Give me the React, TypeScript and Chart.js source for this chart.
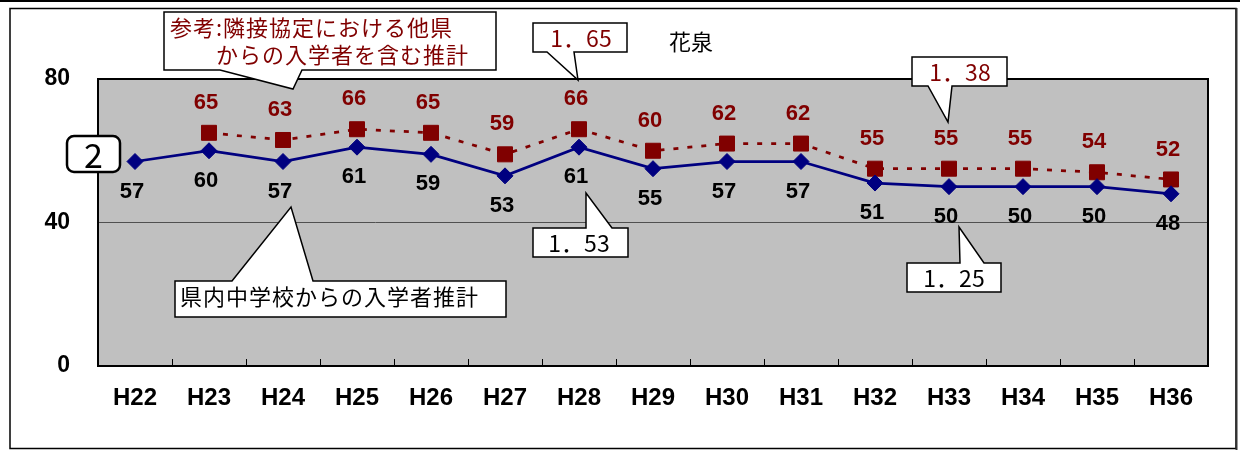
import React, { useEffect, useRef } from "react";
import { Chart, registerables } from "chart.js";

Chart.register(...registerables);

// ---- data ----
const categories = ["H22", "H23", "H24", "H25", "H26", "H27", "H28", "H29", "H30", "H31", "H32", "H33", "H34", "H35", "H36"];
const inPrefecture = [57, 60, 57, 61, 59, 53, 61, 55, 57, 57, 51, 50, 50, 50, 48];
const withNeighbors = [null, 65, 63, 66, 65, 59, 66, 60, 62, 62, 55, 55, 55, 54, 52];
const yTickValues = [0, 40, 80];
const title = "花泉";
const noteNeighbors = ["参考:隣接協定における他県", "　　からの入学者を含む推計"];
const noteInPref = "県内中学校からの入学者推計";
const ratioLabels = { high2016: "1．65", low2016: "1．53", high2021: "1．38", low2021: "1．25" };
const districtNo = "2";

const BOLD = '"Liberation Sans", Arial, sans-serif';
const JP = '"Noto Sans CJK JP", "Noto Sans CJK SC", sans-serif';
const RED = "#800000";
const NAVY = "#000080";

type Tail = { edge: "top" | "bottom"; x1: number; x2: number; tx: number; ty: number };

function drawCallout(ctx: CanvasRenderingContext2D, x: number, y: number, w: number, h: number, tail: Tail) {
  const r = x + w;
  const b = y + h;
  ctx.beginPath();
  ctx.moveTo(x, y);
  if (tail.edge === "top") {
    ctx.lineTo(tail.x1, y);
    ctx.lineTo(tail.tx, tail.ty);
    ctx.lineTo(tail.x2, y);
  }
  ctx.lineTo(r, y);
  ctx.lineTo(r, b);
  if (tail.edge === "bottom") {
    ctx.lineTo(tail.x2, b);
    ctx.lineTo(tail.tx, tail.ty);
    ctx.lineTo(tail.x1, b);
  }
  ctx.lineTo(x, b);
  ctx.closePath();
  ctx.fillStyle = "#ffffff";
  ctx.fill();
  ctx.lineWidth = 1.5;
  ctx.strokeStyle = "#000000";
  ctx.lineJoin = "miter";
  ctx.stroke();
}

const framePlugin = {
  id: "frame",
  beforeDraw(chart: any) {
    const { ctx, chartArea } = chart;
    ctx.save();
    ctx.fillStyle = "#ffffff";
    ctx.fillRect(0, 0, chart.width, chart.height);
    // page top rule
    ctx.fillStyle = "#000000";
    ctx.fillRect(0, 0, chart.width, 2);
    // outer frame
    ctx.strokeStyle = "#000000";
    ctx.lineWidth = 1.5;
    ctx.strokeRect(10, 8.5, 1226, 440);
    ctx.fillStyle = "#333333";
    ctx.fillRect(1235.5, 8, 2, 442);
    // plot background
    ctx.fillStyle = "#c0c0c0";
    ctx.fillRect(chartArea.left, chartArea.top, chartArea.right - chartArea.left, chartArea.bottom - chartArea.top);
    ctx.restore();
  },
  beforeDatasetsDraw(chart: any) {
    const { ctx, chartArea } = chart;
    const xs = chart.scales.x;
    ctx.save();
    // inward tick marks at category boundaries
    ctx.strokeStyle = "#000000";
    ctx.lineWidth = 1;
    for (let i = 0; i < categories.length - 1; i++) {
      const bx = Math.round((xs.getPixelForValue(i) + xs.getPixelForValue(i + 1)) / 2) + 0.5;
      ctx.beginPath();
      ctx.moveTo(bx, chartArea.bottom);
      ctx.lineTo(bx, chartArea.bottom - 7);
      ctx.stroke();
    }
    // plot border
    ctx.lineWidth = 2;
    ctx.strokeRect(chartArea.left, chartArea.top, chartArea.right - chartArea.left, chartArea.bottom - chartArea.top);
    ctx.restore();
  },
};

const labelPlugin = {
  id: "valueLabels",
  afterDatasetsDraw(chart: any) {
    const { ctx } = chart;
    ctx.save();
    ctx.font = `bold 22px ${BOLD}`;
    ctx.textAlign = "center";
    ctx.textBaseline = "middle";
    chart.data.datasets.forEach((ds: any, di: number) => {
      const meta = chart.getDatasetMeta(di);
      const above = di === 1;
      ctx.fillStyle = above ? RED : "#000000";
      meta.data.forEach((pt: any, i: number) => {
        const v = ds.data[i];
        if (v == null) return;
        ctx.fillText(String(v), pt.x - 3, pt.y + (above ? -30 : 30));
      });
    });
    ctx.restore();
  },
};

const annotationPlugin = {
  id: "callouts",
  afterDraw(chart: any) {
    const { ctx } = chart;
    ctx.save();

    // neighbors note
    drawCallout(ctx, 164, 12, 332, 58, { edge: "bottom", x1: 220, x2: 302, tx: 293, ty: 89 });
    ctx.font = `22px ${JP}`;
    (ctx as any).letterSpacing = "1px";
    ctx.fillStyle = RED;
    ctx.textAlign = "left";
    ctx.textBaseline = "middle";
    ctx.fillText(noteNeighbors[0], 170, 28);
    ctx.fillText(noteNeighbors[1], 170, 55);
    (ctx as any).letterSpacing = "0px";

    // in-prefecture note
    drawCallout(ctx, 175, 281, 331, 36, { edge: "top", x1: 232, x2: 313, tx: 291, ty: 207 });
    ctx.fillStyle = "#000000";
    (ctx as any).letterSpacing = "1px";
    ctx.fillText(noteInPref, 180, 297);
    (ctx as any).letterSpacing = "0px";

    // ratio callouts
    ctx.font = `23px ${JP}`;
    ctx.textAlign = "center";
    drawCallout(ctx, 533, 23, 94, 29, { edge: "bottom", x1: 547, x2: 574, tx: 578, ty: 80 });
    ctx.fillStyle = RED;
    ctx.fillText(ratioLabels.high2016, 581, 38);

    drawCallout(ctx, 912, 57, 95, 29, { edge: "bottom", x1: 928, x2: 952, tx: 948, ty: 122 });
    ctx.fillStyle = RED;
    ctx.fillText(ratioLabels.high2021, 960, 72);

    drawCallout(ctx, 533, 228, 95, 29, { edge: "top", x1: 586, x2: 612, tx: 586, ty: 193 });
    ctx.fillStyle = "#000000";
    ctx.fillText(ratioLabels.low2016, 579, 243);

    drawCallout(ctx, 907, 263, 94, 29, { edge: "top", x1: 960, x2: 984, tx: 959, ty: 227 });
    ctx.fillStyle = "#000000";
    ctx.fillText(ratioLabels.low2021, 954, 278);

    // district number box
    ctx.beginPath();
    (ctx as any).roundRect(67, 136, 53, 36, 7);
    ctx.fillStyle = "#ffffff";
    ctx.fill();
    ctx.lineWidth = 2.5;
    ctx.strokeStyle = "#000000";
    ctx.stroke();
    ctx.fillStyle = "#000000";
    ctx.font = `34px ${JP}`;
    ctx.fillText(districtNo, 93.5, 155);

    // title
    ctx.font = `22px ${JP}`;
    ctx.fillText(title, 691, 42);

    ctx.restore();
  },
};

export default function App() {
  const canvasRef = useRef<HTMLCanvasElement | null>(null);

  useEffect(() => {
    document.body.style.margin = "0";
    const canvas = canvasRef.current;
    if (!canvas) return;
    const chart = new Chart(canvas, {
      type: "line",
      data: {
        labels: categories,
        datasets: [
          {
            label: noteInPref,
            data: inPrefecture,
            borderColor: NAVY,
            backgroundColor: NAVY,
            borderWidth: 2.75,
            pointStyle: "rectRot",
            pointRadius: 8,
            pointBorderWidth: 1,
            pointBorderColor: NAVY,
            pointBackgroundColor: NAVY,
            tension: 0,
          },
          {
            label: "参考",
            data: withNeighbors,
            borderColor: RED,
            backgroundColor: RED,
            borderWidth: 2.75,
            borderDash: [5, 9],
            pointStyle: "rect",
            pointRadius: 10.6,
            pointBorderWidth: 1,
            pointBorderColor: RED,
            pointBackgroundColor: RED,
            tension: 0,
            spanGaps: false,
          },
        ],
      },
      options: {
        responsive: false,
        maintainAspectRatio: false,
        animation: false,
        devicePixelRatio: 1,
        layout: { padding: { left: 10, right: 32, top: 79, bottom: 10 } },
        plugins: {
          legend: { display: false },
          title: { display: false },
          tooltip: { enabled: false },
        },
        scales: {
          x: {
            type: "category",
            offset: true,
            grid: { display: false, drawTicks: false, offset: true },
            border: { display: false },
            ticks: {
              color: "#000000",
              font: { family: BOLD, size: 24, weight: "bold" },
              padding: 18,
              maxRotation: 0,
              autoSkip: false,
            },
            afterFit: (s: any) => {
              s.height = 74;
            },
          },
          y: {
            min: 0,
            max: 80,
            afterBuildTicks: (s: any) => {
              s.ticks = yTickValues.map((v) => ({ value: v }));
            },
            grid: {
              drawTicks: false,
              color: (c: any) => (c.tick && c.tick.value === 40 ? "#505050" : "rgba(0,0,0,0)"),
              lineWidth: 1,
            },
            border: { display: false },
            ticks: {
              color: "#000000",
              font: { family: BOLD, size: 23, weight: "bold" },
              padding: 28,
            },
            afterFit: (s: any) => {
              s.width = 88;
            },
          },
        },
      },
      plugins: [framePlugin, labelPlugin, annotationPlugin],
    });
    return () => chart.destroy();
  }, []);

  return (
    <div style={{ width: 1240, height: 450 }}>
      <canvas ref={canvasRef} width={1240} height={450} style={{ width: 1240, height: 450, display: "block" }} />
    </div>
  );
}
